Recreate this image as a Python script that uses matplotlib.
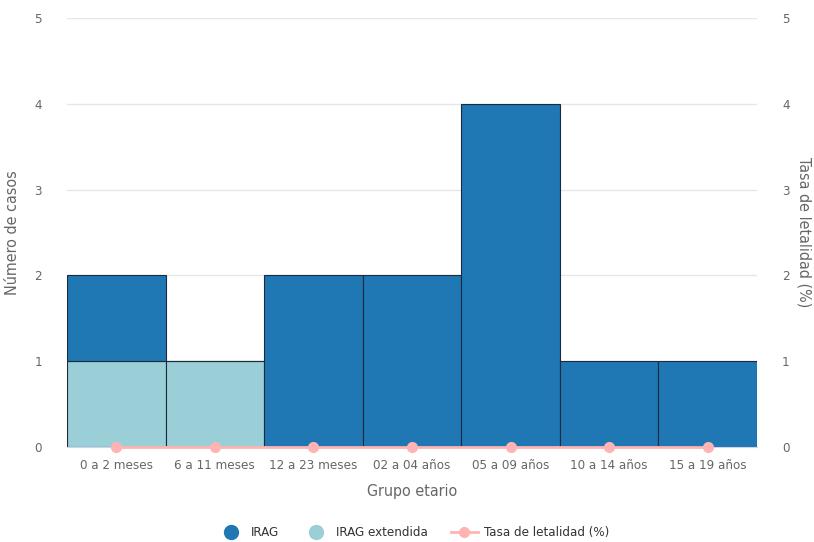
import matplotlib.pyplot as plt
from matplotlib.lines import Line2D
import numpy as np

plt.rcParams['font.family'] = ['DejaVu Sans']
plt.rcParams['font.stretch'] = 'condensed'

# Data
grupos = ['0 a 2 meses', '6 a 11 meses', '12 a 23 meses', '02 a 04 años',
          '05 a 09 años', '10 a 14 años', '15 a 19 años']
irag_ext = [1, 1, 0, 0, 0, 0, 0]
irag = [1, 0, 2, 2, 4, 1, 1]
letalidad = [0, 0, 0, 0, 0, 0, 0]

c_irag = '#1f77b4'
c_ext = '#9acfd8'
c_let = '#ffb3b3'
txt = '#666666'

fig = plt.figure(figsize=(8.14, 5.42), dpi=100)
ax = fig.add_axes([0.0823, 0.1753, 0.8477, 0.7915])

x = np.arange(len(grupos))
ax.bar(x, irag_ext, width=1.0, color=c_ext, edgecolor='#1c2b3a', linewidth=0.8, zorder=2)
ax.bar(x, irag, width=1.0, bottom=irag_ext, color=c_irag, edgecolor='#1c2b3a', linewidth=0.8, zorder=2)

ax.set_xlim(-0.5, len(grupos) - 0.5)
ax.set_ylim(0, 5)
ax.set_yticks(range(6))
ax.grid(axis='y', color='#e6e6e6', linewidth=1, zorder=0)
for s in ['top', 'right', 'left']:
    ax.spines[s].set_visible(False)
ax.spines['bottom'].set_color('#ccd6eb')
ax.tick_params(axis='both', length=0, colors=txt, labelsize=9.5)
ax.tick_params(axis='x', pad=9)
ax.tick_params(axis='y', pad=18)
ax.set_xticks(x)
ax.set_xticklabels(grupos)
ax.set_xlabel('Grupo etario', color=txt, fontsize=11.5, labelpad=8)
ax.set_ylabel('Número de casos', color=txt, fontsize=11.5)
ax.yaxis.set_label_coords(-0.068, 0.5)

ax2 = ax.twinx()
ax2.plot(x, letalidad, color=c_let, linewidth=2, marker='o', markersize=7, zorder=5, clip_on=False)
ax2.set_ylim(0, 5)
ax2.set_yticks(range(6))
for s in ['top', 'right', 'left', 'bottom']:
    ax2.spines[s].set_visible(False)
ax2.tick_params(axis='y', length=0, colors=txt, labelsize=9.5, pad=18)
ax2.set_ylabel('Tasa de letalidad (%)', color=txt, fontsize=11.5, rotation=270, va='center')
ax2.yaxis.set_label_coords(1.068, 0.5)

handles = [
    Line2D([], [], linestyle='none', marker='o', markersize=10, color=c_irag),
    Line2D([], [], linestyle='none', marker='o', markersize=10, color=c_ext),
    Line2D([], [], color=c_let, linewidth=2, marker='o', markersize=7),
]
fig.legend(handles, ['IRAG', 'IRAG extendida', 'Tasa de letalidad (%)'],
           loc='center', bbox_to_anchor=(0.508, 0.017), ncol=3, frameon=False,
           fontsize=9.5, labelcolor='#333333', handletextpad=0.5, columnspacing=1.8)

fig.savefig('out.png', dpi=100)
